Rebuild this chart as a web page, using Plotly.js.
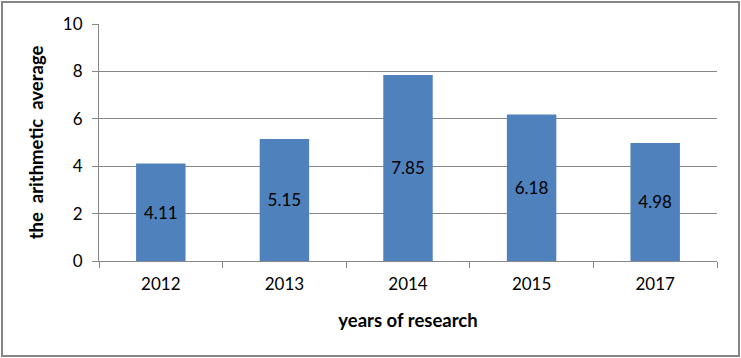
<!DOCTYPE html>
<html><head><meta charset="utf-8">
<script src="https://cdn.plot.ly/plotly-3.0.1.min.js"></script>
<style>
html,body{margin:0;padding:0;background:#fff;}
#wrap{position:relative;width:741px;height:358px;}
#chart{position:absolute;left:0;top:0;width:741px;height:358px;}
#frame{position:absolute;left:1px;top:1px;width:735px;height:352px;border:2px solid #868686;pointer-events:none;}
</style></head>
<body>
<div id="wrap"><div id="chart"></div><div id="frame"></div></div>
<script>
const years = ['2012','2013','2014','2015','2017'];
const averages = [4.11, 5.15, 7.85, 6.18, 4.98];
const labels = ['4.11','5.15','7.85','6.18','4.98'];
const yTicks = [0,2,4,6,8,10];

const font = 'Lato, "Open Sans", sans-serif';
Plotly.newPlot('chart', [{
  type: 'bar',
  x: years,
  y: averages,
  text: labels,
  textposition: 'inside',
  insidetextanchor: 'middle',
  constraintext: 'none',
  textangle: 0,
  textfont: {family: font, size: 17, color: '#000'},
  marker: {color: '#4F81BD', line: {width: 0}},
  hoverinfo: 'none'
}], {
  width: 741, height: 358,
  margin: {l: 99, r: 24, t: 24, b: 97},
  paper_bgcolor: '#fff', plot_bgcolor: '#fff',
  bargap: 0.6,
  showlegend: false,
  font: {family: font, size: 17, color: '#000'},
  xaxis: {
    type: 'category',
    tickson: 'boundaries',
    ticks: 'outside', ticklen: 6, tickcolor: '#868686', tickwidth: 1,
    showline: true, linecolor: '#868686', linewidth: 1,
    showgrid: false,
    ticklabelstandoff: 8,
    tickfont: {family: font, size: 17, color: '#000'},
    title: {text: '<b>years of research</b>', font: {family: font, size: 18.5, color: '#000'}, standoff: 20}
  },
  yaxis: {
    range: [0, 10],
    tickvals: yTicks,
    ticktext: yTicks.map(String),
    ticks: 'outside', ticklen: 6, tickcolor: '#868686', tickwidth: 1,
    showline: true, linecolor: '#868686', linewidth: 1,
    showgrid: true, gridcolor: '#868686', gridwidth: 1,
    zeroline: false,
    ticklabelstandoff: 6,
    tickfont: {family: font, size: 17, color: '#000'},
    title: {text: '<b>the  arithmetic  average</b>', font: {family: font, size: 18.5, color: '#000'}, standoff: 14}
  }
}, {staticPlot: true});
</script>
</body></html>
